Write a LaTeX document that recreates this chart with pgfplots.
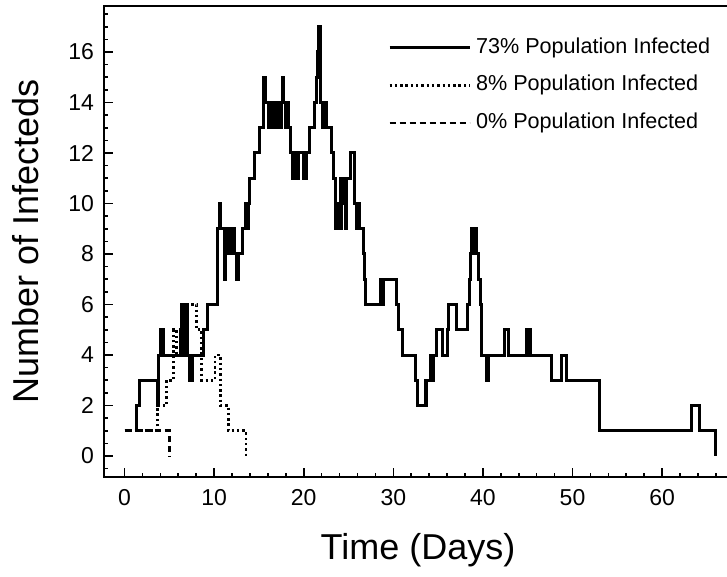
\documentclass[border=0pt]{standalone}
\usepackage{fontspec}
\setmainfont{Liberation Sans}
\usepackage{pgfplots}
\pgfplotsset{compat=1.18}

% Number of infected individuals over time for three simulated outbreaks
\pgfplotstableread{
day value
1.36 1
1.36 2
1.66 3
3.66 2
3.80 4
4.07 5
4.15 4
4.25 5
4.40 4
6.27 5
6.32 6
6.40 4
6.50 6
6.58 4
6.75 6
6.85 5
6.95 6
7.05 4
7.25 3
7.35 4
7.45 3
7.60 4
8.80 5
9.30 6
10.36 9
10.60 10
10.72 9
11.20 7
11.30 9
11.45 8
11.55 9
11.70 8
11.85 9
12.00 8
12.10 9
12.25 8
12.55 7
12.70 8
13.19 9
13.45 10
13.55 9
13.65 10
13.75 9
13.85 10
14.00 11
14.56 12
15.05 13
15.50 14
15.55 15
15.70 14
16.05 13
16.15 14
16.25 13
16.35 14
16.45 13
16.55 14
16.70 13
16.80 14
16.95 13
17.05 14
17.25 13
17.35 14
17.45 13
17.50 14
17.60 15
17.75 14
17.95 13
18.05 14
18.15 13
18.25 14
18.35 13
18.54 12
18.80 11
18.90 12
19.00 11
19.10 12
19.25 11
19.40 12
20.03 11
20.33 12
20.60 13
21.20 14
21.40 15
21.50 16
21.56 15
21.62 17
21.70 16
21.76 17
21.84 15
21.92 14
22.05 13
22.15 14
22.30 13
22.40 14
22.49 13
23.12 12
23.31 11
23.60 9
23.75 10
23.85 9
23.98 10
24.05 11
24.15 9
24.25 11
24.40 10
24.50 11
24.65 9
24.75 11
25.17 12
25.72 10
25.85 9
25.95 10
26.05 9
26.15 10
26.28 9
26.65 8
26.80 7
26.94 6
28.52 7
28.62 6
28.70 7
28.80 6
28.90 7
30.30 6
30.57 5
31.05 4
32.42 3
32.68 2
33.54 3
33.62 2
33.70 3
34.10 4
34.20 3
34.30 4
34.40 3
34.50 4
34.77 5
35.51 4
36.03 5
36.14 6
37.07 5
38.26 6
38.48 7
38.63 8
38.70 9
38.80 8
38.90 9
39.00 8
39.10 9
39.30 8
39.49 7
39.75 6
39.86 4
40.42 3
40.60 4
42.36 5
42.84 4
44.88 5
45.00 4
45.10 5
45.26 4
47.67 3
48.79 4
49.35 3
52.99 2
53.05 1
63.29 2
64.14 1
65.95 0
}\highrun

\pgfplotstableread{
day value
0.00 1
3.66 2
4.70 3
5.50 5
5.80 4
6.50 5
6.60 6
6.90 4
7.10 6
8.05 5
8.60 3
10.10 4
10.70 2
11.60 1
13.55 0
}\midrun

\pgfplotstableread{
day value
0.00 1
5.00 0
}\lowrun

\begin{document}
\begin{tikzpicture}
\begin{axis}[
  name=ax,
  at={(0,0)}, anchor=south west,
  scale only axis,
  width=312.75pt, height=235.5pt,
  xmin=-2.29, xmax=67.52,
  ymin=-0.83, ymax=17.82,
  axis line style={line width=1pt},
  xtick={0,10,...,60},
  minor xtick={2,4,6,8,12,14,16,18,22,24,26,28,32,34,36,38,42,44,46,48,52,54,56,58,62,64,66},
  ytick={0,2,...,16},
  minor ytick={-0.5,0.5,1,...,17.5},
  tick align=inside,
  tick pos=left,
  major tick length=4.5pt,
  minor tick length=2pt,
  tick style={line width=0.8pt, black},
  ticklabel style={font=\fontsize{11.5}{13}\selectfont},
  xticklabel style={yshift=-2.5pt},
  yticklabel style={xshift=-1.5pt},
  /pgf/number format/assume math mode=true,
  xlabel={Time (Days)},
  ylabel={Number of Infecteds},
  label style={font=\fontsize{18}{21}\selectfont},
  xlabel style={at={(axis description cs:0.502,-0.176)}, anchor=base},
  ylabel style={at={(axis description cs:-0.104,0.5)}, anchor=base},
  legend image code/.code={\draw[#1] (0pt,0pt) -- (40pt,0pt);},
  legend cell align=left,
  legend style={draw=none, fill=none,
    at={(axis description cs:0.4535,0.934)}, anchor=north west,
    font=\fontsize{10.8}{12}\selectfont,
    inner sep=0pt, row sep=8.25pt,
    nodes={inner sep=0pt, text height=8pt, text depth=2.5pt},
    /tikz/every odd column/.append style={column sep=2.5pt}},
]
\addplot[black, line width=1.5pt, const plot] table[x=day, y=value] {\highrun};
\addlegendentry{73\% Population Infected}
\addplot[black, line width=1.3pt, const plot, dash pattern=on 1.2pt off 1.45pt] table[x=day, y=value] {\midrun};
\addlegendentry{8\% Population Infected}
\addplot[black, line width=1.3pt, const plot, dash pattern=on 3pt off 2pt] table[x=day, y=value] {\lowrun};
\addlegendentry{0\% Population Infected}
\end{axis}
\pgfresetboundingbox
\path ([shift={(-52pt,-50pt)}]ax.south west) rectangle ([shift={(-1.25pt,3pt)}]ax.north east);
\end{tikzpicture}
\end{document}
